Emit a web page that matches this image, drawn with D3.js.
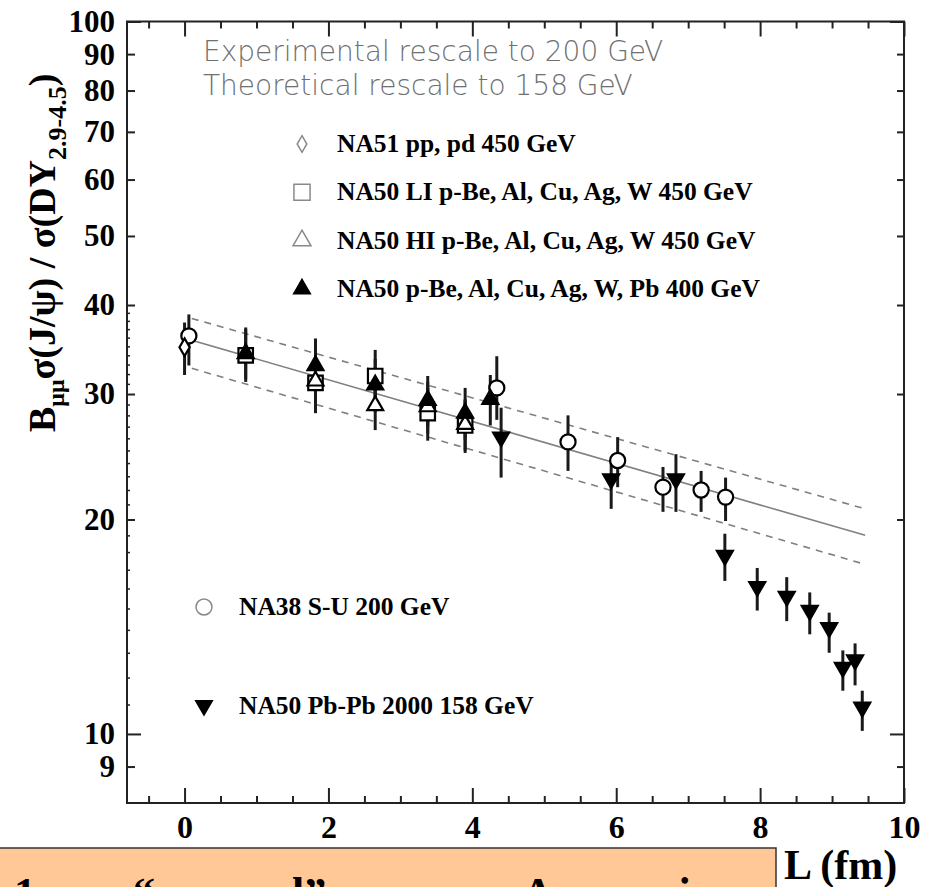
<!DOCTYPE html>
<html>
<head>
<meta charset="utf-8">
<script src="https://cdn.jsdelivr.net/npm/d3@7"></script>
<style>
  html, body { margin: 0; padding: 0; background: #fff; }
  svg { display: block; }
</style>
</head>
<body>
<div id="chart"></div>
<script>
// NA51 pp, pd 450 GeV (open diamond)
const na51L = [0.0];
const na51V = [34.9];
const na51Lo = [31.9];
const na51Hi = [37.8];

// NA50 LI p-A 450 GeV (open square)
const liL = [0.85, 1.82, 2.65, 3.38, 3.90];
const liV = [34.0, 31.1, 31.8, 28.2, 27.1];
const liLo = [31.2, 28.2, 29.2, 25.8, 24.8];
const liHi = [37.0, 33.9, 34.6, 30.6, 29.4];

// NA50 HI p-A 450 GeV (open triangle)
const hiL = [1.82, 2.65, 3.38, 3.90];
const hiV = [31.3, 28.9, 28.8, 27.2];
const hiLo = [28.6, 26.7, 26.4, 25.0];
const hiHi = [34.0, 31.2, 31.2, 29.5];

// NA50 p-A 400 GeV (filled triangle)
const pa400L = [0.85, 1.82, 2.65, 3.38, 3.90, 4.25];
const pa400V = [34.2, 32.9, 30.9, 29.4, 28.2, 29.5];
const pa400Lo = [31.5, 30.3, 28.3, 27.0, 25.9, 27.1];
const pa400Hi = [37.2, 35.9, 33.6, 31.8, 30.6, 31.9];

// NA38 S-U 200 GeV (open circle)
const na38L = [0.06, 4.34, 5.33, 6.02, 6.65, 7.18, 7.52];
const na38V = [36.2, 30.6, 25.7, 24.2, 22.2, 22.0, 21.5];
const na38Lo = [32.9, 27.6, 23.4, 22.2, 20.5, 20.5, 19.9];
const na38Hi = [38.8, 33.9, 28.0, 26.1, 23.7, 23.4, 22.9];

// NA50 Pb-Pb 2000 158 GeV (filled down triangle)
const pbL = [4.40, 5.93, 6.83, 7.51, 7.96, 8.37, 8.69, 8.96, 9.15, 9.32, 9.42];
const pbV = [26.1, 22.8, 22.8, 17.8, 16.1, 15.6, 14.9, 14.1, 12.4, 12.7, 10.9];
const pbLo = [22.9, 20.7, 20.5, 16.4, 14.9, 14.4, 13.8, 13.0, 11.5, 11.7, 10.1];
const pbHi = [28.7, 24.2, 24.7, 19.1, 17.1, 16.6, 15.8, 14.8, 13.1, 13.4, 11.5];

// absorption fit and its band (straight on the log axis)
const fitL = [0.1, 9.46];
const fitMid = [35.7, 19.0];
const fitUp = [38.3, 20.7];
const fitLow = [32.6, 17.3];

const xMajorTicks = [0, 2, 4, 6, 8, 10];
const xMinorTicks = [-0.5, 0.5, 1, 1.5, 2.5, 3, 3.5, 4.5, 5, 5.5, 6.5, 7, 7.5, 8.5, 9, 9.5];
const yLabelTicks = [9, 10, 20, 30, 40, 50, 60, 70, 80, 90, 100];
const yLongTicks = [10, 100];

const legendTop = [
    { sym: "diamond", text: "NA51 pp, pd 450 GeV" },
    { sym: "square", text: "NA50 LI p-Be, Al, Cu, Ag, W 450 GeV" },
    { sym: "triangle", text: "NA50 HI p-Be, Al, Cu, Ag, W 450 GeV" },
    { sym: "triangleFilled", text: "NA50 p-Be, Al, Cu, Ag, W, Pb 400 GeV" }
];
const legendBottom = [
    { sym: "circle", text: "NA38 S-U 200 GeV" },
    { sym: "down", text: "NA50 Pb-Pb 2000 158 GeV" }
];

const W = 926, H = 887;
const margin = { top: 21.5, right: 22, bottom: 84, left: 127 };
const serif = "'Liberation Serif', 'Times New Roman', serif";

const svg = d3.select("#chart").append("svg")
    .attr("width", W)
    .attr("height", H)
    .attr("viewBox", [0, 0, W, H]);

const x = d3.scaleLinear()
    .domain([-0.8, 10])
    .range([margin.left, W - margin.right]);

const y = d3.scaleLog()
    .domain([8, 100])
    .range([H - margin.bottom, margin.top]);

const x0 = x.range()[0], x1 = x.range()[1];
const y0 = y.range()[0], y1 = y.range()[1];

function pack(L, V, lo, hi) {
    return L.map((l, i) => ({ L: l, v: V[i], lo: lo[i], hi: hi[i] }));
}

// symbol paths
const symPath = {
    diamond: d3.symbol(d3.symbolDiamond, 90)(),
    square: d3.symbol(d3.symbolSquare, 210)(),
    triangle: d3.symbol(d3.symbolTriangle, 110)(),
    triangleFilled: d3.symbol(d3.symbolTriangle, 110)(),
    circle: d3.symbol(d3.symbolCircle, 180)(),
    down: d3.symbol(d3.symbolTriangle, 110)()
};
const legendPath = {
    diamond: d3.symbol(d3.symbolDiamond, 80)(),
    square: d3.symbol(d3.symbolSquare, 260)(),
    triangle: d3.symbol(d3.symbolTriangle, 140)(),
    triangleFilled: d3.symbol(d3.symbolTriangle, 120)(),
    circle: d3.symbol(d3.symbolCircle, 200)(),
    down: d3.symbol(d3.symbolTriangle, 120)()
};

// fit band lines
const line = d3.line()
    .x(d => x(d[0]))
    .y(d => y(d[1]));

[[fitUp, "7,6"], [fitLow, "7,6"], [fitMid, null]].forEach(([vals, dash]) => {
    svg.append("path")
        .attr("d", line(fitL.map((l, i) => [l, vals[i]])))
        .attr("fill", "none")
        .attr("stroke", "#808080")
        .attr("stroke-width", 1.6)
        .attr("stroke-dasharray", dash);
});

const series = [
    { data: pack(na38L, na38V, na38Lo, na38Hi), sym: "circle", fill: "#fff" },
    { data: pack(na51L, na51V, na51Lo, na51Hi), sym: "diamond", fill: "#fff" },
    { data: pack(liL, liV, liLo, liHi), sym: "square", fill: "#fff" },
    { data: pack(hiL, hiV, hiLo, hiHi), sym: "triangle", fill: "#fff" },
    { data: pack(pa400L, pa400V, pa400Lo, pa400Hi), sym: "triangleFilled", fill: "#000" },
    { data: pack(pbL, pbV, pbLo, pbHi), sym: "down", fill: "#000" }
];

// error bars first
const bars = svg.append("g");
series.forEach(s => {
    bars.selectAll(null)
        .data(s.data)
        .join("line")
        .attr("x1", d => x(d.L))
        .attr("x2", d => x(d.L))
        .attr("y1", d => y(d.lo))
        .attr("y2", d => y(d.hi))
        .attr("stroke", "#1a1a1a")
        .attr("stroke-width", 3);
});

const marks = svg.append("g");
series.forEach(s => {
    marks.selectAll(null)
        .data(s.data)
        .join("path")
        .attr("d", symPath[s.sym])
        .attr("transform", d => `translate(${x(d.L)},${y(d.v)})` + (s.sym === "down" ? " rotate(180)" : ""))
        .attr("fill", s.fill)
        .attr("stroke", "#000")
        .attr("stroke-width", 2.2);
});

// frame
svg.append("rect")
    .attr("x", x0)
    .attr("y", y1)
    .attr("width", x1 - x0)
    .attr("height", y0 - y1)
    .attr("fill", "none")
    .attr("stroke", "#222")
    .attr("stroke-width", 2);

function styleAxis(g) {
    g.select(".domain").remove();
    g.selectAll("line").attr("stroke", "#222").attr("stroke-width", 2);
}

function boldLabels(sel, size) {
    sel.selectAll("text")
        .attr("font-family", serif)
        .attr("font-weight", "bold")
        .attr("font-size", size)
        .attr("fill", "#000");
}

// x ticks, bottom and top
svg.append("g")
    .attr("transform", `translate(0,${y0})`)
    .call(d3.axisBottom(x).tickValues(xMinorTicks).tickSize(-7).tickFormat(""))
    .call(styleAxis);
svg.append("g")
    .attr("transform", `translate(0,${y0})`)
    .call(d3.axisBottom(x).tickValues(xMajorTicks).tickSize(-15).tickPadding(12).tickFormat(d3.format("d")))
    .call(styleAxis)
    .call(boldLabels, 32);
svg.append("g")
    .attr("transform", `translate(0,${y1})`)
    .call(d3.axisTop(x).tickValues(xMinorTicks).tickSize(-7).tickFormat(""))
    .call(styleAxis);
svg.append("g")
    .attr("transform", `translate(0,${y1})`)
    .call(d3.axisTop(x).tickValues(xMajorTicks).tickSize(-15).tickFormat(""))
    .call(styleAxis);

// y ticks, left and right
const yMid = yLabelTicks.filter(v => !yLongTicks.includes(v));
svg.append("g")
    .attr("transform", `translate(${x0},0)`)
    .call(d3.axisLeft(y).tickValues(yMid).tickSize(-8).tickPadding(12).tickFormat(d3.format("d")))
    .call(styleAxis)
    .call(boldLabels, 31);
svg.append("g")
    .attr("transform", `translate(${x0},0)`)
    .call(d3.axisLeft(y).tickValues(yLongTicks).tickSize(-14).tickPadding(12).tickFormat(d3.format("d")))
    .call(styleAxis)
    .call(boldLabels, 31);
svg.append("g")
    .attr("transform", `translate(${x1},0)`)
    .call(d3.axisRight(y).tickValues(yMid).tickSize(-7).tickFormat(""))
    .call(styleAxis);
svg.append("g")
    .attr("transform", `translate(${x1},0)`)
    .call(d3.axisRight(y).tickValues(yLongTicks).tickSize(-14).tickFormat(""))
    .call(styleAxis);
// tiny unit ticks on the left axis
svg.append("g")
    .attr("transform", `translate(${x0},0)`)
    .call(d3.axisLeft(y).tickValues(d3.range(11, 40).filter(v => v % 10 !== 0)).tickSize(-3).tickFormat(""))
    .call(styleAxis)
    .selectAll("line").attr("stroke-width", 1.5);

// annotation
const note = svg.append("g")
    .attr("font-family", "'DejaVu Sans', Verdana, sans-serif")
    .attr("font-weight", 300)
    .attr("font-size", 28)
    .attr("fill", "#707070");
note.append("text").attr("x", 203).attr("y", 61).text("Experimental rescale to 200 GeV");
note.append("text").attr("x", 203).attr("y", 95).text("Theoretical rescale to 158 GeV");

// legends
function drawLegend(items, sx, tx, baseline, step, size) {
    const g = svg.append("g");
    items.forEach((it, i) => {
        const by = baseline + i * step;
        const solid = it.sym === "triangleFilled" || it.sym === "down";
        g.append("path")
            .attr("d", legendPath[it.sym])
            .attr("transform", `translate(${sx},${by - 8})` + (it.sym === "down" ? " rotate(180)" : ""))
            .attr("fill", solid ? "#000" : "#fff")
            .attr("stroke", solid ? "#000" : "#8a8a8a")
            .attr("stroke-width", 1.5);
        g.append("text")
            .attr("x", tx)
            .attr("y", by)
            .attr("font-family", serif)
            .attr("font-weight", "bold")
            .attr("font-size", size)
            .attr("fill", "#000")
            .text(it.text);
    });
}
drawLegend(legendTop, 302, 337, 152, 48.3, 25.5);
drawLegend(legendBottom, 204, 239, 615, 98.5, 25.5);

// y axis title
const yTitle = svg.append("text")
    .attr("transform", "translate(55,432) rotate(-90)")
    .attr("font-family", serif)
    .attr("font-weight", "bold")
    .attr("font-size", 38)
    .attr("fill", "#000");
yTitle.append("tspan").text("B");
yTitle.append("tspan").attr("font-size", 24).attr("dy", 9).text("μμ");
yTitle.append("tspan").attr("dy", -9).text("σ(J/ψ) / σ(DY");
yTitle.append("tspan").attr("font-size", 26).attr("dy", 11).text("2.9-4.5");
yTitle.append("tspan").attr("dy", -11).text(")");

// x axis title
svg.append("text")
    .attr("x", 784)
    .attr("y", 879)
    .attr("font-family", serif)
    .attr("font-weight", "bold")
    .attr("font-size", 42)
    .attr("fill", "#000")
    .text("L (fm)");

// slide caption box, cut by the bottom edge
svg.append("rect")
    .attr("x", -2)
    .attr("y", 848)
    .attr("width", 778)
    .attr("height", 60)
    .attr("fill", "#ffc896")
    .attr("stroke", "#333")
    .attr("stroke-width", 1.5);
const caption = svg.append("text")
    .attr("y", 908)
    .attr("font-family", serif)
    .attr("font-weight", "bold")
    .attr("font-size", 44)
    .attr("fill", "#000");
caption.append("tspan").attr("x", 14).text("1.");
caption.append("tspan").attr("x", 133).text("“unusual”");
caption.append("tspan").attr("x", 522).text("A curve is");
</script>
</body>
</html>
